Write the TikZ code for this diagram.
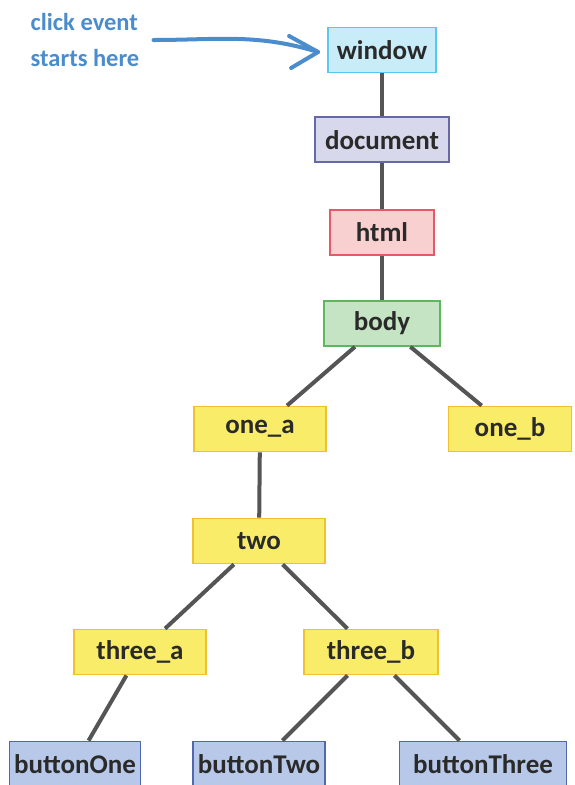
\documentclass[tikz,border=0pt]{standalone}
\usepackage{fontspec}
\setmainfont{Carlito}
\usetikzlibrary{arrows.meta,positioning}
\definecolor{domtext}{HTML}{2A2A2A}
\definecolor{domgray}{HTML}{555555}
\definecolor{clickblue}{HTML}{4A8CCC}
\definecolor{winfill}{HTML}{C8ECF8}
\definecolor{windraw}{HTML}{58C8F0}
\definecolor{docfill}{HTML}{D8D8EC}
\definecolor{docdraw}{HTML}{6868A8}
\definecolor{htmlfill}{HTML}{F8D0D0}
\definecolor{htmldraw}{HTML}{E85868}
\definecolor{bodyfill}{HTML}{C4E4C4}
\definecolor{bodydraw}{HTML}{5CB85C}
\definecolor{elfill}{HTML}{F8EC68}
\definecolor{eldraw}{HTML}{F0C030}
\definecolor{btnfill}{HTML}{B8C8E8}
\definecolor{btndraw}{HTML}{5068B0}

\begin{document}
\begin{tikzpicture}[x=1pt, y=-1pt,
  elem/.style={draw, line width=1.8pt, minimum height=45pt, inner sep=2pt, text=domtext, font=\fontsize{27}{30}\selectfont\bfseries},
  winbox/.style={elem, draw=windraw, fill=winfill},
  docbox/.style={elem, draw=docdraw, fill=docfill},
  htmlbox/.style={elem, draw=htmldraw, fill=htmlfill},
  bodybox/.style={elem, draw=bodydraw, fill=bodyfill},
  divbox/.style={elem, draw=eldraw, fill=elfill},
  btnbox/.style={elem, draw=btndraw, fill=btnfill},
  edge/.style={domgray, line width=4pt},
  clicklbl/.style={align=left, text=clickblue, inner sep=2pt, font=\fontsize{24.5}{36}\selectfont\bfseries},
  clickarr/.style={clickblue, line width=4pt, line cap=round, line join=round}]
\useasboundingbox (0,0) rectangle (574,785);
% top of the tree
\node[winbox, minimum width=108pt] (window) at (382,50) {window};
\node[docbox, minimum width=134pt, below=43pt of window] (document) {document};
\node[htmlbox, minimum width=104pt, below=46pt of document] (html) {html};
\node[bodybox, minimum width=116pt, below=44pt of html] (body) {body};
% elements
\node[divbox, minimum width=132pt] (one_a) at (260,429) {one\_a};
\node[divbox, minimum width=123pt] (one_b) at (510,429) {one\_b};
\node[divbox, minimum width=132pt] (two) at (259,541) {two};
\node[divbox, minimum width=132pt] (three_a) at (140,652) {three\_a};
\node[divbox, minimum width=134pt] (three_b) at (371,652) {three\_b};
% buttons
\node[btnbox, minimum width=131pt] (buttonOne) at (75,764) {buttonOne};
\node[btnbox, minimum width=132pt] (buttonTwo) at (259,764) {buttonTwo};
\node[btnbox, minimum width=167pt] (buttonThree) at (483,764) {buttonThree};
\draw[edge] (window) -- (document);
\draw[edge] (document) -- (html);
\draw[edge] (html) -- (body);
\draw[edge] (body) -- (one_a);
\draw[edge] (body) -- (one_b);
\draw[edge] (one_a) -- (two);
\draw[edge] (two) -- (three_a);
\draw[edge] (two) -- (three_b);
\draw[edge] (three_a) -- (buttonOne);
\draw[edge] (three_b) -- (buttonTwo);
\draw[edge] (three_b) -- (buttonThree);
% where the click starts
\node[clicklbl] (start) at (85,40) {click event\\starts here};
\coordinate (clicktip) at ([xshift=-9pt, yshift=-2pt]window.west);
\draw[clickarr] ([xshift=12pt]start.east) to[out=0, in=163] (clicktip);
\draw[clickarr] ([shift={(-29,-16)}]clicktip) -- (clicktip) -- ([shift={(-27,16)}]clicktip);
\end{tikzpicture}
\end{document}
